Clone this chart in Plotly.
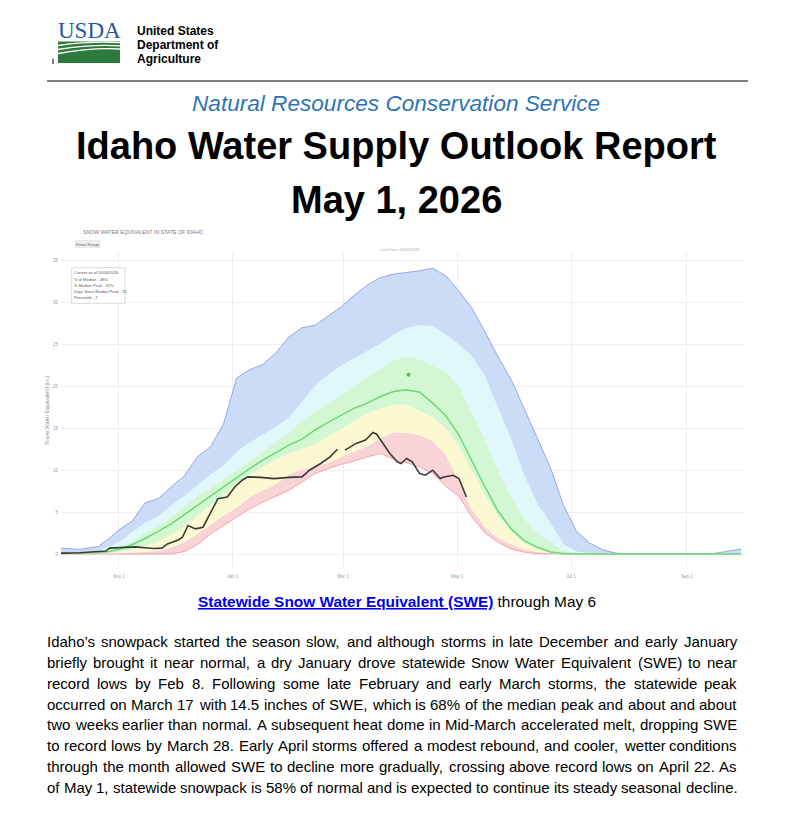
import plotly.graph_objects as go

FIG_W, FIG_H = 791, 820

# ---------------- data ----------------
grid_dates = ["2025-10-01", "2025-10-11", "2025-10-21", "2025-10-27", "2025-11-01",
              "2025-11-08", "2025-11-15", "2025-11-22", "2025-11-29", "2025-12-06",
              "2025-12-13", "2025-12-20", "2025-12-27", "2026-01-03", "2026-01-10",
              "2026-01-17", "2026-01-24", "2026-01-31", "2026-02-07", "2026-02-14",
              "2026-02-21", "2026-02-28", "2026-03-07", "2026-03-14", "2026-03-21",
              "2026-03-28", "2026-04-04", "2026-04-11", "2026-04-18", "2026-04-25",
              "2026-05-02", "2026-05-09", "2026-05-16", "2026-05-23", "2026-05-30",
              "2026-06-06", "2026-06-13", "2026-06-20", "2026-06-27", "2026-07-04",
              "2026-07-11", "2026-07-18", "2026-07-25", "2026-08-01", "2026-08-15",
              "2026-09-01", "2026-09-15", "2026-09-22", "2026-09-30"]

max_swe = [0.7, 0.55, 0.9, 1.9, 2.9,
           3.9, 6.1, 6.6, 8.0, 9.3,
           11.6, 12.8, 15.5, 21.0, 22.0,
           22.6, 24.0, 25.9, 27.0, 27.3,
           28.4, 29.5, 30.9, 32.1, 33.0,
           33.4, 33.6, 33.8, 34.1, 33.2,
           31.4, 29.3, 26.5, 23.5, 20.8,
           17.3, 14.0, 10.3, 5.8, 2.7,
           1.3, 0.5, 0.1, 0.02, 0.0,
           0.0, 0.05, 0.3, 0.6]

p90_swe = [0.2, 0.2, 0.4, 0.9, 1.4,
           2.6, 3.7, 4.5, 5.8, 6.9,
           8.2, 9.5, 10.6, 12.2, 13.3,
           14.2, 15.2, 16.3, 18.1, 20.1,
           21.4, 22.5, 23.4, 24.3, 25.1,
           26.2, 27.0, 27.3, 27.2, 26.2,
           25.0, 23.6, 21.2, 17.4, 13.7,
           9.4, 6.0, 3.7, 1.2, 0.3,
           0.05, 0, 0, 0, 0,
           0, 0, 0, 0]

p70_swe = [0.15, 0.15, 0.25, 0.5, 0.8,
           1.5, 2.5, 3.3, 4.4, 5.7,
           6.9, 7.8, 8.9, 9.9, 11.1,
           12.3, 13.4, 14.4, 16.0, 17.0,
           18.0, 19.0, 20.1, 21.2, 22.2,
           23.1, 23.6, 23.2, 22.5, 21.8,
           20.0, 16.8, 13.7, 10.0, 6.8,
           4.2, 2.5, 1.4, 0.4, 0.05,
           0, 0, 0, 0, 0,
           0, 0, 0, 0]

median_swe = [0.1, 0.1, 0.15, 0.3, 0.55,
              1.1, 1.85, 2.7, 3.6, 4.7,
              5.8, 6.9, 8.1, 9.1, 10.2,
              11.2, 12.1, 13.0, 13.7, 14.8,
              15.7, 16.6, 17.4, 18.0, 18.8,
              19.4, 19.6, 19.3, 18.0, 16.5,
              14.2, 11.1, 8.0, 5.1, 3.0,
              1.6, 0.8, 0.25, 0.05, 0,
              0, 0, 0, 0, 0,
              0, 0, 0, 0]

p30_swe = [0.05, 0.05, 0.08, 0.15, 0.25,
           0.5, 0.95, 1.5, 2.3, 3.3,
           4.6, 5.8, 7.0, 8.4, 9.4,
           10.4, 11.3, 12.0, 12.5, 13.1,
           14.0, 15.0, 15.9, 16.8, 17.4,
           17.8, 17.8, 17.1, 16.3, 15.0,
           12.8, 10.0, 7.0, 4.6, 2.7,
           1.3, 0.55, 0.2, 0.05, 0,
           0, 0, 0, 0, 0,
           0, 0, 0, 0]

p10_swe = [0.02, 0.02, 0.03, 0.05, 0.08,
           0.15, 0.25, 0.4, 0.75, 1.4,
           2.4, 3.5, 4.6, 5.5, 6.8,
           7.6, 8.3, 9.5, 10.1, 10.4,
           10.9, 11.6, 12.2, 12.9, 13.8,
           14.5, 14.5, 14.2, 13.5, 11.8,
           8.6, 5.3, 3.2, 1.9, 1.2,
           0.5, 0.25, 0.08, 0, 0,
           0, 0, 0, 0, 0,
           0, 0, 0, 0]

min_swe = [0, 0, 0, 0, 0,
           0, 0, 0, 0, 0.3,
           1.1, 2.4, 3.4, 4.5, 5.4,
           6.2, 6.9, 7.6, 8.6, 9.6,
           10.2, 10.7, 11.1, 11.6, 12.0,
           11.3, 10.9, 10.4, 9.6, 8.1,
           6.9, 4.4, 2.5, 1.4, 0.6,
           0.2, 0.05, 0, 0, 0,
           0, 0, 0, 0, 0,
           0, 0, 0, 0]

current_dates = ["2025-10-01", "2025-10-11", "2025-10-21", "2025-10-25", "2025-10-27",
                 "2025-11-03", "2025-11-10", "2025-11-15", "2025-11-20", "2025-11-24",
                 "2025-11-27", "2025-12-03", "2025-12-05", "2025-12-08", "2025-12-12",
                 "2025-12-16", "2025-12-20", "2025-12-24", "2025-12-29", "2026-01-02",
                 "2026-01-06", "2026-01-09", "2026-01-16", "2026-01-23", "2026-01-31",
                 "2026-02-07", "2026-02-11", "2026-02-17", "2026-02-22", "2026-02-26",
                 "2026-02-27", "2026-03-02", "2026-03-08", "2026-03-13", "2026-03-17",
                 "2026-03-19", "2026-03-22", "2026-03-26", "2026-03-30", "2026-04-01",
                 "2026-04-04", "2026-04-07", "2026-04-11", "2026-04-14", "2026-04-18",
                 "2026-04-22", "2026-04-24", "2026-04-29", "2026-05-02", "2026-05-06"]
current_swe = [0.1, 0.15, 0.3, 0.35, 0.7,
               0.75, 0.85, 0.75, 0.65, 0.7,
               1.2, 1.7, 2.0, 3.4, 3.0,
               3.2, 4.9, 6.6, 6.8, 8.0,
               8.8, 9.2, 9.15, 9.0, 9.15,
               9.2, 10.0, 10.8, 11.6, 12.5,
               None, 12.4, 13.2, 13.6, 14.5,
               14.3, 13.3, 12.0, 11.0, 10.8,
               11.4, 11.0, 9.6, 9.4, 10.0,
               9.0, 9.2, 9.4, 9.0, 6.8]

median_peak_date = ["2026-04-05"]
median_peak_swe = [21.4]

y_tick_values = [0, 5, 10, 15, 20, 25, 30, 35]
x_tick_dates = ["2025-11-01", "2026-01-01", "2026-03-01", "2026-05-01", "2026-07-01", "2026-09-01"]
x_tick_labels = ["Nov 1", "Jan 1", "Mar 1", "May 1", "Jul 1", "Sep 1"]

chart_title = "SNOW WATER EQUIVALENT IN STATE OF IDAHO"
y_axis_title = "Snow Water Equivalent (in.)"
info_lines = ["Current as of 05/06/2026", "% of Median - 48%", "% Median Peak - 32%",
              "Days Since Median Peak - 31", "Percentile - 7"]

paragraph_lines = [
    "Idaho\u2019s snowpack started the season slow, and although storms in late December and early January",
    "briefly brought it near normal, a dry January drove statewide Snow Water Equivalent (SWE) to near",
    "record lows by Feb 8. Following some late February and early March storms, the statewide peak",
    "occurred on March 17 with 14.5 inches of SWE, which is 68% of the median peak and about and about",
    "two weeks earlier than normal. A subsequent heat dome in Mid-March accelerated melt, dropping SWE",
    "to record lows by March 28. Early April storms offered a modest rebound, and cooler, wetter conditions",
    "through the month allowed SWE to decline more gradually, crossing above record lows on April 22. As",
    "of May 1, statewide snowpack is 58% of normal and is expected to continue its steady seasonal decline.",
]

# ---------------- helpers ----------------
ARIAL = "Arial, Liberation Sans, sans-serif"


def X(p):
    return p / FIG_W


def Y(p):
    return 1 - p / FIG_H


HELV = {' ': 278, '!': 278, '"': 355, '#': 556, '$': 556, '%': 889, '&': 667, "'": 191,
        '(': 333, ')': 333, '*': 389, '+': 584, ',': 278, '-': 333, '.': 278, '/': 278,
        ':': 278, ';': 278, '<': 584, '=': 584, '>': 584, '?': 556, '@': 1015,
        'A': 667, 'B': 667, 'C': 722, 'D': 722, 'E': 667, 'F': 611, 'G': 778, 'H': 722,
        'I': 278, 'J': 500, 'K': 667, 'L': 556, 'M': 833, 'N': 722, 'O': 778, 'P': 667,
        'Q': 778, 'R': 722, 'S': 667, 'T': 611, 'U': 722, 'V': 667, 'W': 944, 'X': 667,
        'Y': 667, 'Z': 611, 'a': 556, 'b': 556, 'c': 500, 'd': 556, 'e': 556, 'f': 278,
        'g': 556, 'h': 556, 'i': 222, 'j': 222, 'k': 500, 'l': 222, 'm': 833, 'n': 556,
        'o': 556, 'p': 556, 'q': 556, 'r': 333, 's': 500, 't': 278, 'u': 556, 'v': 500,
        'w': 722, 'x': 500, 'y': 500, 'z': 500, '\u2019': 222}
for d in "0123456789":
    HELV[d] = 556


def text_w(s, size):
    return sum(HELV.get(c, 556) for c in s) * size / 1000.0


annotations = []
shapes = []


def add_text(x, y, text, size, color="#000000", family=ARIAL, xanchor="center",
             yanchor="middle", **kw):
    annotations.append(dict(x=X(x), y=Y(y), xref="paper", yref="paper", text=text,
                            showarrow=False, xanchor=xanchor, yanchor=yanchor,
                            borderpad=0, borderwidth=0,
                            font=dict(size=size, color=color, family=family), **kw))


def add_rect(x0, y0, x1, y1, fill, line_color=None, line_width=0):
    shapes.append(dict(type="rect", xref="paper", yref="paper",
                       x0=X(x0), x1=X(x1), y0=Y(y1), y1=Y(y0), fillcolor=fill,
                       line=dict(color=line_color or fill, width=line_width), layer="above"))


def add_line(x0, y0, x1, y1, color, width):
    shapes.append(dict(type="line", xref="paper", yref="paper",
                       x0=X(x0), x1=X(x1), y0=Y(y0), y1=Y(y1),
                       line=dict(color=color, width=width)))


def px_path(points_cmds):
    out = []
    for cmd, pts in points_cmds:
        coords = " ".join(f"{X(a):.5f},{Y(b):.5f}" for a, b in pts)
        out.append(f"{cmd} {coords}".strip())
    return " ".join(out)


# ---------------- chart traces ----------------
fig = go.Figure()

fig.add_trace(go.Scatter(x=grid_dates, y=min_swe, mode="lines",
                         line=dict(color="#f3a3ab", width=1), hoverinfo="skip"))
fig.add_trace(go.Scatter(x=grid_dates, y=p10_swe, mode="lines", fill="tonexty",
                         fillcolor="#f9d4d6", line=dict(width=0), hoverinfo="skip"))
fig.add_trace(go.Scatter(x=grid_dates, y=p30_swe, mode="lines", fill="tonexty",
                         fillcolor="#fbf8d2", line=dict(width=0), hoverinfo="skip"))
fig.add_trace(go.Scatter(x=grid_dates, y=p70_swe, mode="lines", fill="tonexty",
                         fillcolor="#d3f6d3", line=dict(width=0), hoverinfo="skip"))
fig.add_trace(go.Scatter(x=grid_dates, y=p90_swe, mode="lines", fill="tonexty",
                         fillcolor="#e0f8fb", line=dict(width=0), hoverinfo="skip"))
fig.add_trace(go.Scatter(x=grid_dates, y=max_swe, mode="lines", fill="tonexty",
                         fillcolor="#cbdcf7", line=dict(color="#9aa5e6", width=1),
                         hoverinfo="skip"))
fig.add_trace(go.Scatter(x=grid_dates, y=median_swe, mode="lines",
                         line=dict(color="#6ada76", width=1.5), hoverinfo="skip"))
fig.add_trace(go.Scatter(x=current_dates, y=current_swe, mode="lines", connectgaps=False,
                         line=dict(color="#3a3a3a", width=1.6), hoverinfo="skip"))
fig.add_trace(go.Scatter(x=median_peak_date, y=median_peak_swe, mode="markers",
                         marker=dict(color="#3fcf4f", size=4), hoverinfo="skip"))

# chart geometry (pixels)
PLOT_L, PLOT_R, PLOT_T, PLOT_B = 61, 744, 253, 567

fig.update_xaxes(type="date", domain=[X(PLOT_L), X(PLOT_R)],
                 range=["2025-10-01", "2026-10-01 14:24"],
                 tickvals=x_tick_dates, ticktext=x_tick_labels,
                 tickfont=dict(size=4.5, color="#9a9a9a", family=ARIAL),
                 showgrid=True, gridcolor="#eeeeee", gridwidth=1, zeroline=False,
                 showline=False, ticks="outside", ticklen=5, tickcolor="rgba(0,0,0,0)")
fig.update_yaxes(domain=[Y(PLOT_B), Y(PLOT_T)], range=[-1.55, 35.92],
                 tickvals=y_tick_values,
                 tickfont=dict(size=4.5, color="#9a9a9a", family=ARIAL),
                 showgrid=True, gridcolor="#eeeeee", gridwidth=1, zeroline=False,
                 showline=False, ticks="outside", ticklen=1, tickcolor="rgba(0,0,0,0)")

# chart texts
add_text(83, 232.5, chart_title, 5.2, color="#777777", xanchor="left")
add_rect(75, 240.5, 100, 247.5, "#eeeeee", "#dddddd", 0.5)
add_text(87.5, 244, "Reset Range", 4, color="#666666")
add_text(400, 249, "Last Data: 05/06/2026", 4, color="#aaaaaa")
add_rect(71.7, 267.7, 125, 303.3, "#ffffff", "#c4c4c4", 0.6)
for i, t in enumerate(info_lines):
    add_text(73.5, 272.7 + i * 6.3, t, 4, color="#555555", xanchor="left")
add_text(47, 411, y_axis_title, 5.6, color="#8a8a8a", textangle=-90)

# ---------------- page header ----------------
usda_blue = "#1f5a9c"
usda_green = "#2e7a3e"
add_text(89, 30, "USDA", 23, color=usda_blue, family="Liberation Serif, Times New Roman, serif")
# green field of the logo
add_rect(58, 41.5, 120, 63, usda_green)
for (a, c, b) in [((58, 45.5), (90, 41.0), (120, 42.6)),
                  ((58, 49.5), (92, 44.0), (120, 45.8)),
                  ((58, 53.5), (94, 47.0), (120, 49.0))]:
    shapes.append(dict(type="path", xref="paper", yref="paper", layer="above",
                       line=dict(color="#ffffff", width=1.3),
                       path=px_path([("M", [a]), ("Q", [c, b])])))
add_line(53, 58.5, 53, 64, "#000000", 1)
add_text(137, 31, "<b>United States</b>", 12, xanchor="left")
add_text(137, 45, "<b>Department of</b>", 12, xanchor="left")
add_text(137, 59, "<b>Agriculture</b>", 12, xanchor="left")
add_line(47, 81, 748, 81, "#000000", 1)

add_text(396, 103, "<i>Natural Resources Conservation Service</i>", 22.6, color="#2e74b5")
add_text(396, 145.5, "<b>Idaho Water Supply Outlook Report</b>", 38)
add_text(396, 199.5, "<b>May 1, 2026</b>", 38)

# caption
add_text(397, 601,
         "<span style='color:#0000ee'><b><u>Statewide Snow Water Equivalent (SWE)</u></b></span>"
         " through May 6", 15.4)

# justified paragraph
PARA_LEFT, PARA_RIGHT = 47, 737
PARA_TOP, PARA_STEP, PARA_SIZE = 641.7, 20.8, 15
for i, line in enumerate(paragraph_lines):
    words = line.split(" ")
    widths = [text_w(w, PARA_SIZE) for w in words]
    if i == len(paragraph_lines) - 1:
        gap = text_w(" ", PARA_SIZE)
    else:
        gap = (PARA_RIGHT - PARA_LEFT - sum(widths)) / (len(words) - 1)
    xpos = PARA_LEFT
    for w, wd in zip(words, widths):
        add_text(xpos, PARA_TOP + i * PARA_STEP, w, PARA_SIZE, xanchor="left")
        xpos += wd + gap

fig.update_layout(width=FIG_W, height=FIG_H, autosize=False,
                  margin=dict(l=0, r=0, t=0, b=0, pad=0),
                  paper_bgcolor="#ffffff", plot_bgcolor="#ffffff",
                  showlegend=False, hovermode=False,
                  annotations=annotations, shapes=shapes,
                  font=dict(family=ARIAL))

fig.write_html("out.html", include_plotlyjs=True, config={"displayModeBar": False})
